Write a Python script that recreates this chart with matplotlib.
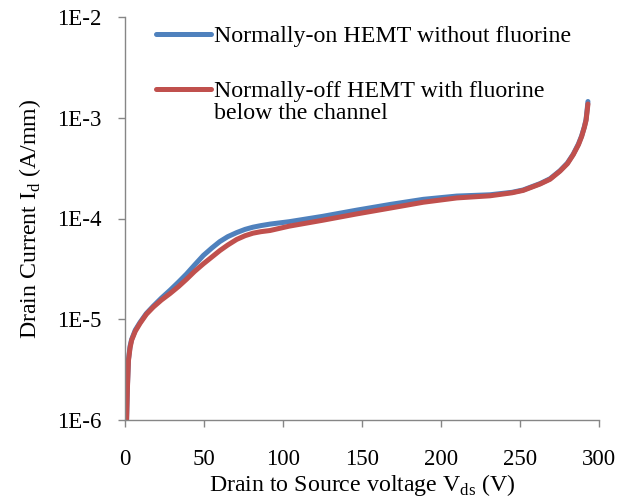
import matplotlib
matplotlib.use("Agg")
import matplotlib.pyplot as plt
from matplotlib.ticker import FixedLocator, FuncFormatter, NullLocator
from matplotlib.legend_handler import HandlerLine2D

plt.rcParams['font.family'] = ['Liberation Serif', 'DejaVu Serif']
plt.rcParams['mathtext.fontset'] = 'custom'
plt.rcParams['mathtext.rm'] = 'Liberation Serif'

# Data
vds_on = [1.0, 1.5, 2.2, 3.2, 4.2, 6.5, 9.5, 13.5, 17.9, 23, 28.5, 34, 39, 44, 49.6,
          55, 60, 65, 70.7, 76, 81, 86, 91.8, 104, 125, 146.6, 168, 188.8, 210, 231, 245,
          252, 262.7, 269, 275.3, 280, 283.7, 287, 289, 290.7, 291.8, 292.6, 293]
id_on = [1.0e-6, 2.1e-6, 4.0e-6, 5.4e-6, 6.3e-6, 7.8e-6, 9.3e-6, 1.14e-5, 1.35e-5, 1.62e-5,
         1.94e-5, 2.35e-5, 2.82e-5, 3.45e-5, 4.3e-5, 5.1e-5, 5.9e-5, 6.6e-5, 7.25e-5, 7.8e-5,
         8.2e-5, 8.5e-5, 8.8e-5, 9.3e-5, 1.05e-4, 1.21e-4, 1.38e-4, 1.55e-4, 1.67e-4, 1.72e-4,
         1.82e-4, 1.92e-4, 2.22e-4, 2.48e-4, 2.98e-4, 3.55e-4, 4.35e-4, 5.5e-4, 6.6e-4, 8.1e-4,
         9.6e-4, 1.25e-3, 1.45e-3]

vds_off = [1.0, 1.5, 2.2, 3.2, 4.2, 6.5, 9.5, 13.5, 17.9, 23, 28.5, 34, 39, 44, 49.6,
           55, 60, 65, 70.7, 76, 81, 86, 91.8, 104, 125, 146.6, 168, 188.8, 210, 231, 245,
           252, 262.7, 269, 275.3, 280, 283.7, 287, 289, 290.7, 291.8, 292.6, 293]
id_off = [1.0e-6, 2.0e-6, 3.9e-6, 5.2e-6, 6.2e-6, 7.6e-6, 9.1e-6, 1.12e-5, 1.32e-5, 1.55e-5,
          1.8e-5, 2.12e-5, 2.5e-5, 2.98e-5, 3.55e-5, 4.15e-5, 4.8e-5, 5.45e-5, 6.2e-5, 6.75e-5,
          7.15e-5, 7.4e-5, 7.6e-5, 8.4e-5, 9.6e-5, 1.11e-4, 1.27e-4, 1.45e-4, 1.6e-4, 1.68e-4,
          1.8e-4, 1.9e-4, 2.2e-4, 2.45e-4, 2.95e-4, 3.5e-4, 4.3e-4, 5.4e-4, 6.5e-4, 8.0e-4,
          9.4e-4, 1.2e-3, 1.37e-3]

x_ticks = [0, 50, 100, 150, 200, 250, 300]
y_ticks = [1e-6, 1e-5, 1e-4, 1e-3, 1e-2]
y_tick_labels = ['1E-6', '1E-5', '1E-4', '1E-3', '1E-2']
label_on = 'Normally-on HEMT without fluorine'
label_off = 'Normally-off HEMT with fluorine\nbelow the channel'

FS_TICK = 16.5
FS = 17.2


class ShiftedLineHandler(HandlerLine2D):
    """Line handle shifted up so it sits beside the first line of a two-line label."""
    def __init__(self, shift=0.0, **kw):
        super().__init__(**kw)
        self.shift = shift

    def create_artists(self, legend, orig_handle, xdescent, ydescent, width, height,
                       fontsize, trans):
        arts = super().create_artists(legend, orig_handle, xdescent, ydescent, width,
                                      height, fontsize, trans)
        for a in arts:
            if hasattr(a, 'get_ydata'):
                a.set_ydata([y + self.shift for y in a.get_ydata()])
        return arts


fig = plt.figure(figsize=(6.30, 4.99), dpi=100)
ax = fig.add_axes([125/630, 1-420/499, 474/630, 403/499])

l1, = ax.plot(vds_on, id_on, color='#4F81BD', lw=3.6, solid_capstyle='round',
              solid_joinstyle='round', label=label_on)
l2, = ax.plot(vds_off, id_off, color='#C0504D', lw=3.6, solid_capstyle='round',
              solid_joinstyle='round', label=label_off)

ax.set_yscale('log')
ax.set_xlim(0, 300)
ax.set_ylim(1e-6, 1e-2)
ax.xaxis.set_major_locator(FixedLocator(x_ticks))
ax.yaxis.set_major_locator(FixedLocator(y_ticks))
ax.yaxis.set_major_formatter(FuncFormatter(
    lambda v, p: y_tick_labels[y_ticks.index(min(y_ticks, key=lambda t: abs(t - v)))]))
ax.yaxis.set_minor_locator(NullLocator())
ax.xaxis.set_minor_locator(NullLocator())

for s in ['top', 'right']:
    ax.spines[s].set_visible(False)
for s in ['left', 'bottom']:
    ax.spines[s].set_color('#868686')
    ax.spines[s].set_linewidth(1.0)
ax.tick_params(axis='both', which='major', direction='out', length=5, width=1.0,
               color='#868686', labelsize=FS_TICK)
ax.tick_params(axis='x', pad=16)
ax.tick_params(axis='y', pad=12)

ax.set_xlabel('Drain to Source voltage V$_\\mathregular{ds}$ (V)', fontsize=FS, labelpad=1)
ax.set_ylabel('Drain Current I$_\\mathregular{d}$ (A/mm)', fontsize=FS, labelpad=10)

leg = ax.legend(handles=[l1, l2], loc='upper left', bbox_to_anchor=(0.045, 1.003),
                frameon=False, fontsize=FS, handlelength=2.3, handletextpad=0.15,
                labelspacing=1.4, borderaxespad=0,
                handler_map={l2: ShiftedLineHandler(shift=9.5)})
for t in leg.get_texts():
    t.set_linespacing(1.1)

fig.savefig('out.png', dpi=100)
